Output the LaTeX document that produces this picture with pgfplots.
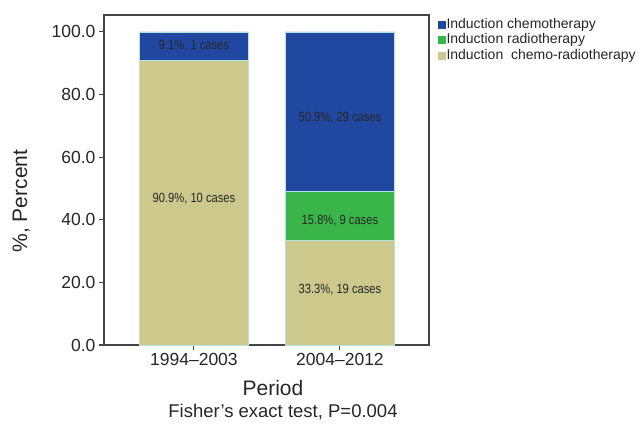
\documentclass[border=0pt]{standalone}
\usepackage{fontspec}
\setmainfont{Liberation Sans}
\newfontfamily\narrowfont[FakeStretch=0.84]{Liberation Sans}
\usepackage{pgfplots}
\pgfplotsset{compat=1.18}

\definecolor{chemo}{HTML}{2148A0}
\definecolor{radio}{HTML}{3AB54A}
\definecolor{chemorad}{HTML}{CDC98D}
\definecolor{edgecol}{HTML}{B4E2DE}
\definecolor{axgray}{HTML}{444444}
\definecolor{txt}{HTML}{262626}

\tikzset{barlab/.style={font=\narrowfont\fontsize{13.3}{13.3}\selectfont, text=txt}}

\begin{document}
\begin{tikzpicture}
\begin{axis}[
  name=ax,
  scale only axis, width=325pt, height=330pt,
  ybar stacked, reverse stacked plots=false, bar width=0.75,
  xmin=-0.616, xmax=1.61, ymin=0, ymax=105.4,
  xtick={0,1}, xticklabels={1994--2003, 2004--2012},
  ytick={0,20,...,100},
  /pgf/number format/assume math mode=true,
  yticklabel style={/pgf/number format/fixed, /pgf/number format/fixed zerofill, /pgf/number format/precision=1},
  tick label style={font=\fontsize{17.5}{17.5}\selectfont, text=txt},
  tick align=outside, tick pos=left, major tick length=5pt,
  axis line style={draw=axgray, line width=1.1pt},
  tick style={draw=axgray, line width=1.1pt},
  xlabel={Period},
  xlabel style={at={(rel axis cs:0.52,0)}, anchor=center, yshift=-43pt, font=\fontsize{21}{21}\selectfont, text=txt},
  ylabel={\%, Percent},
  ylabel style={at={(rel axis cs:-0.255,0.436)}, anchor=center, font=\fontsize{21}{21}\selectfont, text=txt},
  reverse legend,
  legend style={at={(1,1)}, anchor=north west, xshift=9pt, yshift=-1.5pt, draw=none, fill=none,
    inner sep=0pt, row sep=0pt, font=\fontsize{14}{14}\selectfont, text=txt,
    nodes={inner sep=0.5pt, text height=11pt, text depth=3.6pt}},
  legend cell align=left,
]
\addplot[fill=chemorad, draw=edgecol, line width=0.8pt,
  legend image code/.code={\fill[chemorad] (0pt,-3.5pt) rectangle (7pt,3.5pt);}]
  coordinates {(0,90.9) (1,33.3)};
\addlegendentry{Induction \ chemo-radiotherapy}
\addplot[fill=radio, draw=edgecol, line width=0.8pt,
  legend image code/.code={\fill[radio] (0pt,-3.5pt) rectangle (7pt,3.5pt);}]
  coordinates {(0,0) (1,15.8)};
\addlegendentry{Induction radiotherapy}
\addplot[fill=chemo, draw=edgecol, line width=0.8pt,
  legend image code/.code={\fill[chemo] (0pt,-3.5pt) rectangle (7pt,3.5pt);}]
  coordinates {(0,9.1) (1,50.9)};
\addlegendentry{Induction chemotherapy}

\node[barlab] at (axis cs:0,95.5) {9.1\%, 1 cases};
\node[barlab] at (axis cs:0,46.6) {90.9\%, 10 cases};
\node[barlab] at (axis cs:1,72.6) {50.9\%, 29 cases};
\node[barlab] at (axis cs:1,39.7) {15.8\%, 9 cases};
\node[barlab] at (axis cs:1,17.6) {33.3\%, 19 cases};
\end{axis}
\node[font=\fontsize{18.5}{18.5}\selectfont, text=txt, xshift=179pt, yshift=-67pt] at (ax.south west) {Fisher's exact test, P=0.004};
\pgfresetboundingbox
\path (-104pt,-81pt) rectangle (537pt,345pt);
\end{tikzpicture}
\end{document}
